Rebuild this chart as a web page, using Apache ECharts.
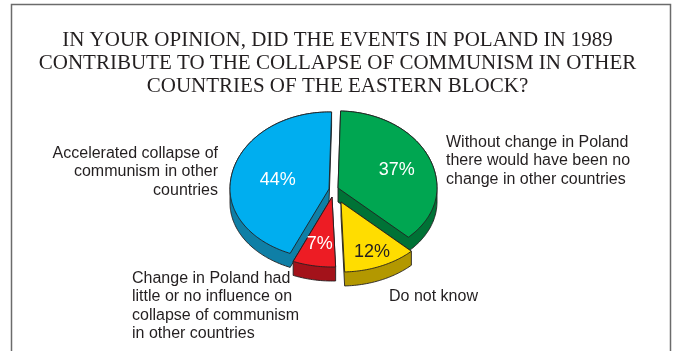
<!DOCTYPE html>
<html><head><meta charset="utf-8">
<script src="https://cdn.jsdelivr.net/npm/echarts@6/dist/echarts.min.js"></script>
<style>html,body{margin:0;padding:0;background:#fff}#c{width:675px;height:351px}</style>
</head><body><div id="c"></div>
<script>
// ---- data ----
const categories = [
  'Without change in Poland\nthere would have been no\nchange in other countries',
  'Do not know',
  'Change in Poland had\nlittle or no influence on\ncollapse of communism\nin other countries',
  'Accelerated collapse of\ncommunism in other\ncountries'
];
const values = [37, 12, 7, 44];
const valueLabels = ['37%', '12%', '7%', '44%'];
const titleText = 'IN YOUR OPINION, DID THE EVENTS IN POLAND IN 1989\nCONTRIBUTE TO THE COLLAPSE OF COMMUNISM IN OTHER\nCOUNTRIES OF THE EASTERN BLOCK?';

// ---- style ----
const topColors = ['#00a651', '#ffdd00', '#ed1c24', '#00aeef'];
const sideColors = ['#007236', '#b39800', '#a3121a', '#0f7fa6'];
const pctColors = ['#ffffff', '#231f20', '#ffffff', '#ffffff'];
const explode = [[5, -4], [8, 10], [-1, 5], [-4, -3]];
const layer = [0, 1, 1, 0];
const labelFrac = [0.64, 0.78, 0.68, 0.53];
const catLabel = [
  {x: 446, y: 161, align: 'left'},
  {x: 389, y: 297, align: 'left'},
  {x: 132, y: 306, align: 'left'},
  {x: 218, y: 172, align: 'right'}
];
const PIE = {cx: 333, cy: 192, rx: 99, ryBack: 77, ryFront: 70, depth: 14, start: 1.5};

const total = values.reduce((a, b) => a + b, 0);

function ellPt(ax, ay, deg, f) {
  const t = deg * Math.PI / 180;
  const c = Math.cos(t);
  return [ax + f * PIE.rx * Math.sin(t), ay - f * (c > 0 ? PIE.ryBack : PIE.ryFront) * c];
}
function hull(points) {
  const p = points.slice().sort((a, b) => a[0] - b[0] || a[1] - b[1]);
  const cross = (o, a, b) => (a[0] - o[0]) * (b[1] - o[1]) - (a[1] - o[1]) * (b[0] - o[0]);
  const lower = [], upper = [];
  for (const q of p) { while (lower.length >= 2 && cross(lower[lower.length - 2], lower[lower.length - 1], q) <= 0) lower.pop(); lower.push(q); }
  for (let i = p.length - 1; i >= 0; i--) { const q = p[i]; while (upper.length >= 2 && cross(upper[upper.length - 2], upper[upper.length - 1], q) <= 0) upper.pop(); upper.push(q); }
  upper.pop(); lower.pop();
  return lower.concat(upper);
}

function renderItem(params, api) {
  const i = params.dataIndex;
  const v = api.value(1);
  let before = 0;
  for (let k = 0; k < i; k++) before += values[k];
  const a0 = PIE.start + before / total * 360;
  const a1 = a0 + v / total * 360;
  const ax = PIE.cx + explode[i][0], ay = PIE.cy + explode[i][1];
  const topPts = [[ax, ay]];
  const n = Math.max(4, Math.ceil(a1 - a0));
  for (let s = 0; s <= n; s++) topPts.push(ellPt(ax, ay, a0 + (a1 - a0) * s / n, 1));
  const all = topPts.concat(topPts.map(p => [p[0], p[1] + PIE.depth]));
  const sil = hull(all);
  const mid = (a0 + a1) / 2;
  const lp = ellPt(ax, ay, mid, labelFrac[i]);
  const z = layer[i] * 10;
  return {
    type: 'group',
    children: [
      {type: 'polygon', z2: z + 1, shape: {points: sil},
        style: {fill: sideColors[i], stroke: '#231f20', lineWidth: 0.9, lineJoin: 'round'}},
      {type: 'polygon', z2: z + 2, shape: {points: topPts},
        style: {fill: topColors[i], stroke: '#231f20', lineWidth: 0.9, lineJoin: 'round'}},
      {type: 'text', z2: 40, x: lp[0], y: lp[1],
        style: {text: valueLabels[i], fill: pctColors[i], fontSize: 18, fontFamily: 'Liberation Sans',
          align: 'center', verticalAlign: 'middle'}},
      {type: 'text', z2: 40, x: catLabel[i].x, y: catLabel[i].y,
        style: {text: categories[i], fill: '#231f20', fontSize: 16, fontFamily: 'Liberation Sans',
          align: catLabel[i].align, verticalAlign: 'middle', lineHeight: 18.5}}
    ]
  };
}

const chart = echarts.init(document.getElementById('c'), null, {renderer: 'canvas'});
chart.setOption({
  animation: false,
  backgroundColor: '#ffffff',
  title: {
    text: titleText, left: 'center', top: 24,
    textStyle: {fontFamily: 'Liberation Serif', fontSize: 21, fontWeight: 'normal', color: '#231f20', lineHeight: 23}
  },
  graphic: [{
    type: 'rect', silent: true, z: -1,
    shape: {x: 11.5, y: 4.5, width: 659, height: 400},
    style: {fill: null, stroke: '#6b6b6b', lineWidth: 1.5}
  }],
  series: [{
    type: 'custom',
    coordinateSystem: 'none',
    renderItem: renderItem,
    data: values.map((v, i) => [i, v])
  }]
});
</script>
</body></html>
